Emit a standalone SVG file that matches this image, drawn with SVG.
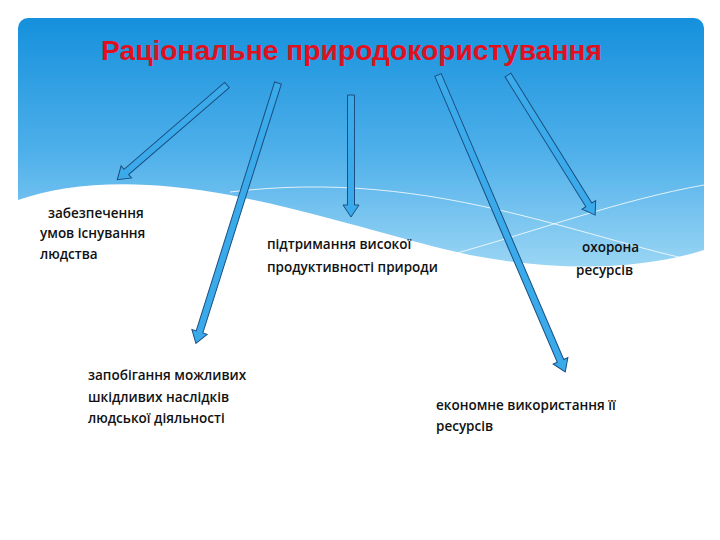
<svg xmlns="http://www.w3.org/2000/svg" width="720" height="540" viewBox="0 0 720 540">
<defs>
<linearGradient id="sky" x1="0" y1="0" x2="0" y2="1">
<stop offset="0" stop-color="#1590dc"/><stop offset="0.5" stop-color="#4fb0ea"/><stop offset="1" stop-color="#a8dcf6"/>
</linearGradient>
<clipPath id="c"><rect x="18" y="18" width="686" height="520" rx="10"/></clipPath>
<style>
.ar{fill:#3aaaea;stroke:#1b4f80;stroke-width:1}
.t{font-family:"Open Sans","Liberation Sans",sans-serif;font-size:13.5px;font-weight:600;fill:#111}
</style>
</defs>
<rect width="720" height="540" fill="#fff"/>
<g clip-path="url(#c)">
<rect x="18" y="18" width="686" height="270" fill="url(#sky)"/>
<path d="M18,200 C70,182 140,178 230,195 C330,215 400,240 470,255 C560,272 640,270 704,250 L704,540 L18,540 Z" fill="#fff"/>
<path d="M230,192 C330,180 420,190 520,215 C600,235 660,255 704,262" fill="none" stroke="#fff" stroke-width="1" opacity="0.8"/>
<path d="M450,255 C540,230 620,200 704,185" fill="none" stroke="#fff" stroke-width="1" opacity="0.8"/>
</g>
<text x="101" y="60" textLength="501" lengthAdjust="spacingAndGlyphs" font-family="'Liberation Sans','Open Sans',sans-serif" font-size="27" font-weight="700" fill="#e0101e">Раціональне природокористування</text>
<g id="connectors">
<polygon class="ar" transform="translate(227,85) rotate(139.2)" points="0,-3.5 133,-3.5 133,-8 145,0 133,8 133,3.5 0,3.5"/>
<polygon class="ar" transform="translate(278,83) rotate(107.5)" points="0,-3.5 261,-3.5 261,-8 273,0 261,8 261,3.5 0,3.5"/>
<polygon class="ar" transform="translate(351,95) rotate(90)" points="0,-3.5 110,-3.5 110,-8 122,0 110,8 110,3.5 0,3.5"/>
<polygon class="ar" transform="translate(438,75) rotate(66.8)" points="0,-3.5 311,-3.5 311,-8 323,0 311,8 311,3.5 0,3.5"/>
<polygon class="ar" transform="translate(508,75) rotate(58.1)" points="0,-3.5 153,-3.5 153,-8 165,0 153,8 153,3.5 0,3.5"/>
</g>
<g id="n1"><text class="t" x="48" y="218">забезпечення</text><text class="t" x="40" y="238">умов існування</text><text class="t" x="40" y="259">людства</text></g>
<g id="n2"><text class="t" x="267" y="249">підтримання високої</text><text class="t" x="267" y="272">продуктивності природи</text></g>
<g id="n3"><text class="t" x="582" y="252">охорона</text><text class="t" x="576" y="275">ресурсів</text></g>
<g id="n4"><text class="t" x="88" y="380">запобігання можливих</text><text class="t" x="88" y="402">шкідливих наслідків</text><text class="t" x="88" y="423">людської діяльності</text></g>
<g id="n5"><text class="t" x="436" y="410">економне використання її</text><text class="t" x="436" y="431">ресурсів</text></g>
</svg>
